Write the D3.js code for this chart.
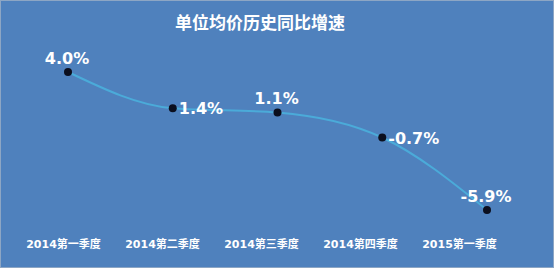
<!DOCTYPE html>
<html>
<head>
<meta charset="utf-8">
<script src="https://cdn.jsdelivr.net/npm/d3@7"></script>
<style>
  body { margin: 0; background: #fff; }
  text { font-family: "DejaVu Sans", "Noto Sans CJK SC", sans-serif; font-weight: bold; fill: #fff; }
</style>
</head>
<body>
<div id="chart"></div>
<script>
// chart data
var categories = ["2014第一季度", "2014第二季度", "2014第三季度", "2014第四季度", "2015第一季度"];
var values = [4.0, 1.4, 1.1, -0.7, -5.9];
var value_labels = ["4.0%", "1.4%", "1.1%", "-0.7%", "-5.9%"];
var label_place = ["top", "right", "top", "right", "top"];
var title = "单位均价历史同比增速";

// settings
var width = 554;
var height = 268;
var bg_color = "#4f81bd";
var line_color = "#4babd9";
var dot_color = "#0b0f1e";

var svg = d3.select("#chart").append("svg")
    .attr("width", width)
    .attr("height", height);

svg.append("rect")
    .attr("x", 0).attr("y", 0)
    .attr("width", width).attr("height", height)
    .attr("fill", bg_color);
svg.append("rect")
    .attr("x", 0.5).attr("y", 0.5)
    .attr("width", width - 1).attr("height", height - 1)
    .attr("fill", "none")
    .attr("stroke", "#8da6c4");

// scales
var x = d3.scalePoint().domain(categories).range([68, 487]);
var xAxisScale = d3.scalePoint().domain(categories).range([63, 459]);
var y = d3.scaleLinear().domain([-5.9, 4.0]).range([210, 72]);

svg.append("text")
    .attr("x", 260)
    .attr("y", 29)
    .attr("text-anchor", "middle")
    .style("font-family", "'Noto Sans CJK SC', sans-serif")
    .style("font-size", "17px")
    .text(title);

// category labels
var xAxis = svg.append("g")
    .attr("transform", "translate(0,240)")
    .call(d3.axisBottom(xAxisScale).tickSize(0).tickPadding(0));
xAxis.select(".domain").remove();
xAxis.selectAll("text")
    .attr("fill", "#fff")
    .attr("dy", "0.75em")
    .style("font-family", "'DejaVu Sans', 'Noto Sans CJK SC', sans-serif")
    .style("font-size", "11px")
    .style("font-weight", "bold");

var data = categories.map(function(c, i) { return {cat: c, v: values[i], label: value_labels[i], place: label_place[i]}; });

var line = d3.line()
    .x(function(d) { return x(d.cat); })
    .y(function(d) { return y(d.v); })
    .curve(d3.curveMonotoneX);

svg.append("path")
    .datum(data)
    .attr("d", line)
    .attr("fill", "none")
    .attr("stroke", line_color)
    .attr("stroke-width", 2);

svg.append("g").selectAll("circle")
    .data(data)
    .enter().append("circle")
    .attr("cx", function(d) { return x(d.cat); })
    .attr("cy", function(d) { return y(d.v); })
    .attr("r", 4)
    .attr("fill", dot_color);

svg.append("g").selectAll("text")
    .data(data)
    .enter().append("text")
    .attr("x", function(d) { return d.place == "top" ? x(d.cat) - 1 : x(d.cat) + 6; })
    .attr("y", function(d) { return d.place == "top" ? y(d.v) - 8 : y(d.v) + 6; })
    .attr("text-anchor", function(d) { return d.place == "top" ? "middle" : "start"; })
    .style("font-size", "16px")
    .text(function(d) { return d.label; });
</script>
</body>
</html>
